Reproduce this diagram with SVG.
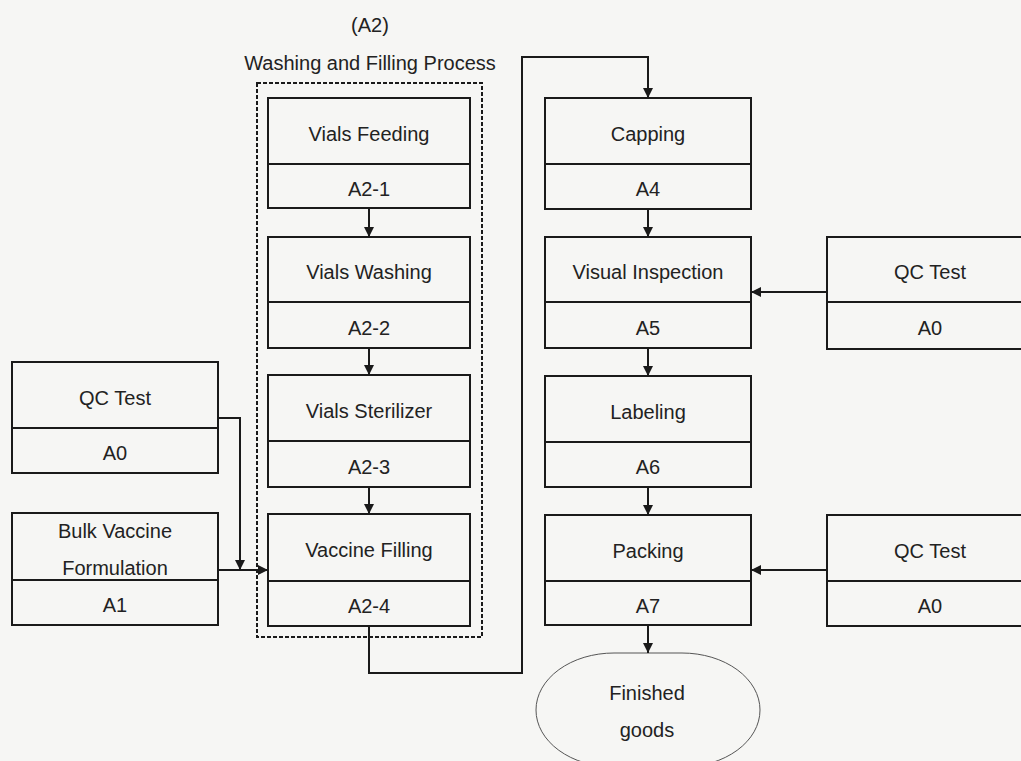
<svg xmlns="http://www.w3.org/2000/svg" width="1021" height="761" viewBox="0 0 1021 761">
<defs>
<marker id="ah" viewBox="0 0 10 10" refX="10" refY="5" markerWidth="10" markerHeight="10" markerUnits="userSpaceOnUse" orient="auto">
<path d="M0,0 L10,5 L0,10 Z" fill="#1a1a1a"/>
</marker>
<style>
.box{fill:none;stroke:#1a1a1a;stroke-width:2}
.div{stroke:#1a1a1a;stroke-width:2}
.t{font-family:"Liberation Sans",Arial,sans-serif;font-size:20px;fill:#222;text-anchor:middle}
.c{fill:none;stroke:#1a1a1a;stroke-width:2}
</style>
</defs>
<rect width="1021" height="761" fill="#f6f6f4"/>

<g id="title">
<text class="t" x="370" y="32">(A2)</text>
<text class="t" x="370" y="70">Washing and Filling Process</text>
</g>
<g id="group-A2">
<rect x="257" y="83" width="225" height="554" fill="none" stroke="#1a1a1a" stroke-width="2" stroke-dasharray="4 2"/>
</g>

<g id="qc-left">
<rect class="box" x="12" y="362" width="206" height="111"/>
<line class="div" x1="12" y1="428" x2="218" y2="428"/>
<text class="t" x="115" y="405">QC Test</text>
<text class="t" x="115" y="460">A0</text>
</g>
<g id="a1">
<rect class="box" x="12" y="513" width="206" height="112"/>
<line class="div" x1="12" y1="580" x2="218" y2="580"/>
<text class="t" x="115" y="538">Bulk Vaccine</text>
<text class="t" x="115" y="575">Formulation</text>
<text class="t" x="115" y="612">A1</text>
</g>

<g id="a2-1">
<rect class="box" x="268" y="98" width="202" height="110"/>
<line class="div" x1="268" y1="164" x2="470" y2="164"/>
<text class="t" x="369" y="141">Vials Feeding</text>
<text class="t" x="369" y="196">A2-1</text>
</g>
<g id="a2-2">
<rect class="box" x="268" y="237" width="202" height="111"/>
<line class="div" x1="268" y1="302" x2="470" y2="302"/>
<text class="t" x="369" y="279">Vials Washing</text>
<text class="t" x="369" y="335">A2-2</text>
</g>
<g id="a2-3">
<rect class="box" x="268" y="375" width="202" height="112"/>
<line class="div" x1="268" y1="441" x2="470" y2="441"/>
<text class="t" x="369" y="418">Vials Sterilizer</text>
<text class="t" x="369" y="474">A2-3</text>
</g>
<g id="a2-4">
<rect class="box" x="268" y="514" width="202" height="112"/>
<line class="div" x1="268" y1="581" x2="470" y2="581"/>
<text class="t" x="369" y="557">Vaccine Filling</text>
<text class="t" x="369" y="613">A2-4</text>
</g>

<g id="a4">
<rect class="box" x="545" y="98" width="206" height="111"/>
<line class="div" x1="545" y1="164" x2="751" y2="164"/>
<text class="t" x="648" y="141">Capping</text>
<text class="t" x="648" y="196">A4</text>
</g>
<g id="a5">
<rect class="box" x="545" y="237" width="206" height="111"/>
<line class="div" x1="545" y1="302" x2="751" y2="302"/>
<text class="t" x="648" y="279">Visual Inspection</text>
<text class="t" x="648" y="335">A5</text>
</g>
<g id="a6">
<rect class="box" x="545" y="376" width="206" height="111"/>
<line class="div" x1="545" y1="442" x2="751" y2="442"/>
<text class="t" x="648" y="419">Labeling</text>
<text class="t" x="648" y="474">A6</text>
</g>
<g id="a7">
<rect class="box" x="545" y="515" width="206" height="110"/>
<line class="div" x1="545" y1="581" x2="751" y2="581"/>
<text class="t" x="648" y="558">Packing</text>
<text class="t" x="648" y="613">A7</text>
</g>

<g id="qc-right-1">
<rect class="box" x="827" y="237" width="206" height="112"/>
<line class="div" x1="827" y1="302" x2="1033" y2="302"/>
<text class="t" x="930" y="279">QC Test</text>
<text class="t" x="930" y="335">A0</text>
</g>
<g id="qc-right-2">
<rect class="box" x="827" y="515" width="206" height="111"/>
<line class="div" x1="827" y1="581" x2="1033" y2="581"/>
<text class="t" x="930" y="558">QC Test</text>
<text class="t" x="930" y="613">A0</text>
</g>

<g id="finished">
<rect x="536" y="653" width="224" height="114" rx="78" ry="57" fill="none" stroke="#555" stroke-width="1"/>
<text class="t" x="647" y="700">Finished</text>
<text class="t" x="647" y="737">goods</text>
</g>

<g id="connectors">
<path class="c" d="M369,208 V237" marker-end="url(#ah)"/>
<path class="c" d="M369,348 V375" marker-end="url(#ah)"/>
<path class="c" d="M369,487 V514" marker-end="url(#ah)"/>
<path class="c" d="M218,418 H240 V570" marker-end="url(#ah)"/>
<path class="c" d="M218,570 H268" marker-end="url(#ah)"/>
<path class="c" d="M369,626 V673 H522 V57 H648 V98" marker-end="url(#ah)"/>
<path class="c" d="M648,209 V237" marker-end="url(#ah)"/>
<path class="c" d="M648,348 V376" marker-end="url(#ah)"/>
<path class="c" d="M648,487 V515" marker-end="url(#ah)"/>
<path class="c" d="M648,625 V653" marker-end="url(#ah)"/>
<path class="c" d="M827,292 H751" marker-end="url(#ah)"/>
<path class="c" d="M827,570 H751" marker-end="url(#ah)"/>
</g>
</svg>
